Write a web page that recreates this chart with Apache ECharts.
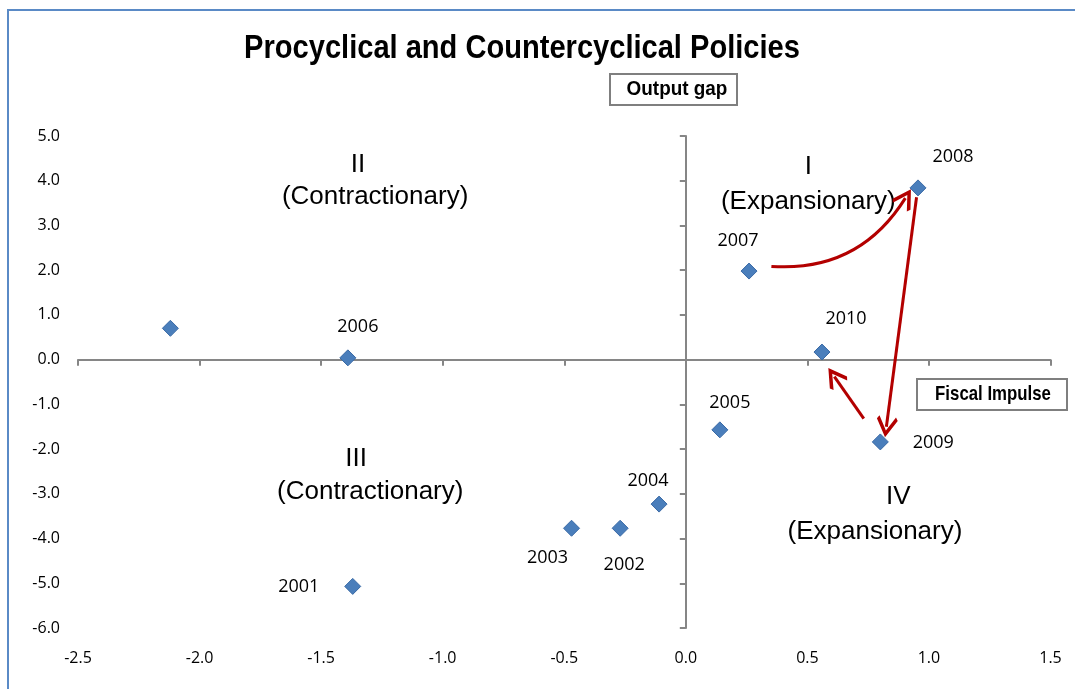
<!DOCTYPE html>
<html><head><meta charset="utf-8">
<script src="https://cdn.jsdelivr.net/npm/echarts@6/dist/echarts.min.js"></script>
<style>html,body{margin:0;padding:0;background:#fff}#c{width:1075px;height:689px}</style>
</head><body><div id="c"></div>
<script>
// ---- data ----
const pointNames     = ['', '2001', '2002', '2003', '2004', '2005', '2006', '2007', '2008', '2009', '2010'];
const fiscalImpulse  = [-2.12, -1.37, -0.27, -0.47, -0.11, 0.14, -1.39, 0.26, 0.955, 0.80, 0.56];
const outputGap      = [0.70, -5.07, -3.77, -3.77, -3.23, -1.57, 0.04, 1.98, 3.84, -1.84, 0.17];

const xMin = -2.5, xMax = 1.5, xStep = 0.5;
const yMin = -6, yMax = 5, yStep = 1;

const titleText = 'Procyclical and Countercyclical Policies';
const yAxisName = 'Output gap';
const xAxisName = 'Fiscal Impulse';

// quadrant annotations (data coordinates)
const quadrantTexts = [
  { text: 'II', at: [-1.348, 4.35] },
  { text: '(Contractionary)', at: [-1.278, 3.63] },
  { text: 'I', at: [0.504, 4.30] },
  { text: '(Expansionary)', at: [0.504, 3.52] },
  { text: 'III', at: [-1.356, -2.22] },
  { text: '(Contractionary)', at: [-1.298, -2.96] },
  { text: 'IV', at: [0.874, -3.07] },
  { text: '(Expansionary)', at: [0.778, -3.86] }
];

// arrows (data coordinates)
const arrowFrom  = [[0.352, 2.085], [0.949, 3.63], [0.732, -1.32]];
const arrowTo    = [[0.903, 3.61], [0.825, -1.50], [0.611, -0.381]];
const arrowCurve = [-0.3, 0, 0];

// ---- styling (label offsets in px) ----
const labelOffsets = {
  '2001': [-54, 0], '2002': [4, 37], '2003': [-24, 30], '2004': [-11, -23],
  '2005': [10, -27], '2006': [10, -31], '2007': [-11, -30], '2008': [35, -31],
  '2009': [53, 1], '2010': [24, -33]
};

const AX = '#868686';
const numFont = "'Open Sans', 'Noto Sans', sans-serif";
const arialFont = "'Liberation Sans', Arial, sans-serif";
const boldFont = "'Liberation Sans', Arial, sans-serif";

const pts = fiscalImpulse.map((x, i) => {
  const n = pointNames[i];
  const item = { name: n, value: [x, outputGap[i]] };
  if (n) item.label = { show: true, offset: labelOffsets[n] };
  return item;
});

const chart = echarts.init(document.getElementById('c'), null, { renderer: 'canvas' });

const axisCommon = { type: 'value', splitLine: { show: false } };

function narrowText(text, x, y, size, sx) {
  return { type: 'text', z: 11, silent: true, x: x, y: y, scaleX: sx, scaleY: 1,
    style: { text: text, x: 0, y: 0, align: 'center', verticalAlign: 'middle',
      font: 'bold ' + size + 'px ' + boldFont, fill: '#000' } };
}

chart.setOption({
  animation: false,
  backgroundColor: '#ffffff',
  grid: { left: 78, right: 24.5, top: 136, bottom: 61, outerBoundsMode: 'none', containLabel: false },
  xAxis: [
    Object.assign({}, axisCommon, {
      min: xMin, max: xMax, interval: xStep, position: 'bottom',
      axisLine: { show: false, onZero: false }, axisTick: { show: false },
      axisLabel: { margin: 22, fontSize: 16, color: '#000', fontFamily: numFont,
        formatter: v => v.toFixed(1) }
    }),
    Object.assign({}, axisCommon, {
      min: xMin, max: xMax, interval: xStep, position: 'bottom',
      axisLine: { show: true, onZero: true, onZeroAxisIndex: 1, lineStyle: { color: AX, width: 2 } },
      axisTick: { show: true, length: 6, lineStyle: { color: AX, width: 2 } },
      axisLabel: { show: false }
    })
  ],
  yAxis: [
    Object.assign({}, axisCommon, {
      min: yMin, max: yMax, interval: yStep, position: 'left',
      axisLine: { show: false, onZero: false }, axisTick: { show: false },
      axisLabel: { margin: 18, fontSize: 16, color: '#000', fontFamily: numFont,
        formatter: v => v.toFixed(1) }
    }),
    Object.assign({}, axisCommon, {
      min: yMin, max: yMax, interval: yStep, position: 'left',
      axisLine: { show: true, onZero: true, onZeroAxisIndex: 1, lineStyle: { color: AX, width: 2 } },
      axisTick: { show: true, length: 6, lineStyle: { color: AX, width: 2 } },
      axisLabel: { show: false }
    })
  ],
  series: [
    {
      type: 'scatter', xAxisIndex: 0, yAxisIndex: 0, silent: true, z: 3,
      symbol: 'diamond', symbolSize: 16,
      itemStyle: { color: '#4a7ebb', borderColor: '#3a6aa6', borderWidth: 1, opacity: 1 },
      label: { show: false, position: 'inside', formatter: '{b}', color: '#000',
        fontSize: 18, fontFamily: numFont },
      data: pts
    },
    {
      type: 'scatter', xAxisIndex: 0, yAxisIndex: 0, silent: true, z: 2,
      symbolSize: 0, itemStyle: { opacity: 1 },
      label: { show: true, position: 'inside', formatter: '{b}', color: '#000',
        fontSize: 26, fontFamily: arialFont },
      data: quadrantTexts.map(q => ({ name: q.text, value: q.at }))
    },
    {
      type: 'lines', coordinateSystem: 'cartesian2d', xAxisIndex: 0, yAxisIndex: 0,
      silent: true, z: 4,
      symbol: ['none', 'path://M0,0 L12,13 L9.5,15.5 L0,5 L-9.5,15.5 L-12,13 Z'],
      symbolSize: 21,
      lineStyle: { color: '#b30000', width: 3, opacity: 1 },
      data: arrowFrom.map((f, i) => ({ coords: [f, arrowTo[i]], lineStyle: { curveness: arrowCurve[i] } }))
    }
  ],
  graphic: [
    { type: 'rect', z: 0, silent: true,
      shape: { x: 8, y: 10, width: 1200, height: 800 },
      style: { fill: 'none', stroke: '#5a8ac6', lineWidth: 2 } },
    narrowText(titleText, 522, 49, 34, 0.855),
    { type: 'rect', z: 10, silent: true,
      shape: { x: 610, y: 74, width: 127, height: 31 },
      style: { fill: '#fff', stroke: '#7f7f7f', lineWidth: 2 } },
    narrowText(yAxisName, 677, 89, 21, 0.9),
    { type: 'rect', z: 10, silent: true,
      shape: { x: 917, y: 379, width: 150, height: 31 },
      style: { fill: '#fff', stroke: '#7f7f7f', lineWidth: 2 } },
    narrowText(xAxisName, 993, 394, 21, 0.8)
  ]
});
</script>
</body></html>
